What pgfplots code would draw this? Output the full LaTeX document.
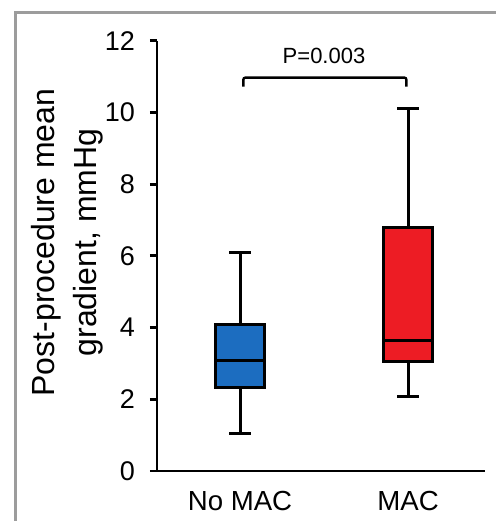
\documentclass[border=0pt]{standalone}
\usepackage{fontspec}
\setmainfont{Liberation Sans}
\usepackage{pgfplots}
\pgfplotsset{compat=1.18}
\usepgfplotslibrary{statistics}
\definecolor{nomacblue}{HTML}{1C6DC0}
\definecolor{macred}{HTML}{ED1C24}
\definecolor{framegray}{HTML}{9C9C9C}

\begin{document}
\begin{tikzpicture}
\begin{axis}[
    at={(78.5pt,25pt)},
    anchor=south west,
    scale only axis,
    width=164pt,
    height=215.15pt,
    xmin=0.506, xmax=2.458,
    ymin=0, ymax=12,
    boxplot/draw direction=y,
    axis x line*=bottom,
    axis y line*=left,
    axis line style={black, line width=1.4pt},
    xtick={1,2},
    xticklabels={No MAC, MAC},
    xtick style={draw=none},
    x tick label style={font=\fontsize{13.8}{16}\selectfont, anchor=north, yshift=-3.2pt},
    ytick={0,2,...,12},
    tick align=outside,
    major tick length=3.5pt,
    ytick style={black, line width=1.4pt},
    y tick label style={font=\fontsize{13.5}{16}\selectfont, xshift=-4pt},
    /pgf/number format/assume math mode=true,
    ylabel={Post-procedure mean\\gradient, mmHg},
    ylabel style={font=\fontsize{16}{21}\selectfont, align=center,
        at={(axis description cs:-0.274,0.531)}, anchor=center},
    clip=false,
]
\addplot[boxplot prepared={
        lower whisker=1.05, lower quartile=2.32, median=3.08,
        upper quartile=4.09, upper whisker=6.09,
        draw position=1, box extend=0.29, whisker extend=0.13},
    fill=nomacblue, draw=black, line width=1.5pt] coordinates {};
\addplot[boxplot prepared={
        lower whisker=2.07, lower quartile=3.05, median=3.63,
        upper quartile=6.80, upper whisker=10.11,
        draw position=2, box extend=0.29, whisker extend=0.13},
    fill=macred, draw=black, line width=1.5pt] coordinates {};

% significance bracket
\draw[black, line width=1.2pt, rounded corners=1pt]
    (axis cs:1.02,10.72) -- (axis cs:1.02,10.97) -- (axis cs:1.99,10.97) -- (axis cs:1.99,10.72);
\node[anchor=base, font=\fontsize{11}{13}\selectfont, inner sep=0pt]
    at (axis cs:1.5,11.37) {P=0.003};
\end{axis}
\pgfresetboundingbox
\useasboundingbox (0,0) rectangle (248pt,260.5pt);
\draw[framegray, line width=1.5pt] (7.75pt,0) -- (7.75pt,254.25pt) -- (248pt,254.25pt);
\end{tikzpicture}
\end{document}
